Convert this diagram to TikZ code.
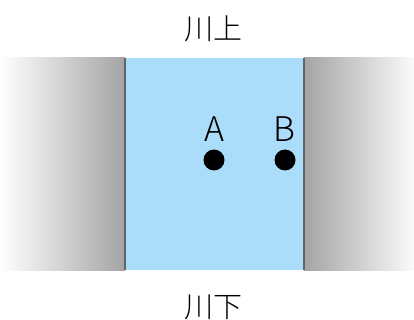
\documentclass[tikz,border=0pt]{standalone}
\usepackage{fontspec}
\setmainfont{Noto Sans CJK JP}
\newfontfamily\cjk{Noto Sans CJK JP Light}
\definecolor{river}{HTML}{ABDCF9}
\definecolor{bank}{HTML}{A4A4A4}
\definecolor{edge}{HTML}{5E6468}
\begin{document}
\begin{tikzpicture}[x=1pt,y=-1pt,
  label/.style={font=\cjk\fontsize{29}{29}\selectfont, inner sep=0pt},
  letter/.style={font=\cjk\fontsize{34}{34}\selectfont, inner sep=0pt, anchor=base},
  spot/.style={circle, fill=black, minimum size=21pt, inner sep=0pt},
  shore/.style={draw=edge, line width=2pt}]
\useasboundingbox (0,0) rectangle (414,320);
% banks with shading
\shade[left color=white, right color=bank] (0,58) rectangle (125,270);
\shade[left color=bank, right color=white!95!bank] (304,58) rectangle (414,270);
% water
\fill[river] (125,58) rectangle (304,270);
\draw[shore] (125,58) -- (125,270);
\draw[shore] (304,58) -- (304,270);
% labels
\node[label] (up) at (213,29) {川上};
\node[label] (down) at (213,307) {川下};
\node[letter] (la) at (214,142) {A};
\node[letter] (lb) at (284,142) {B};
\node[spot] (a) at (214,160) {};
\node[spot] (b) at (285,160) {};
\end{tikzpicture}
\end{document}
